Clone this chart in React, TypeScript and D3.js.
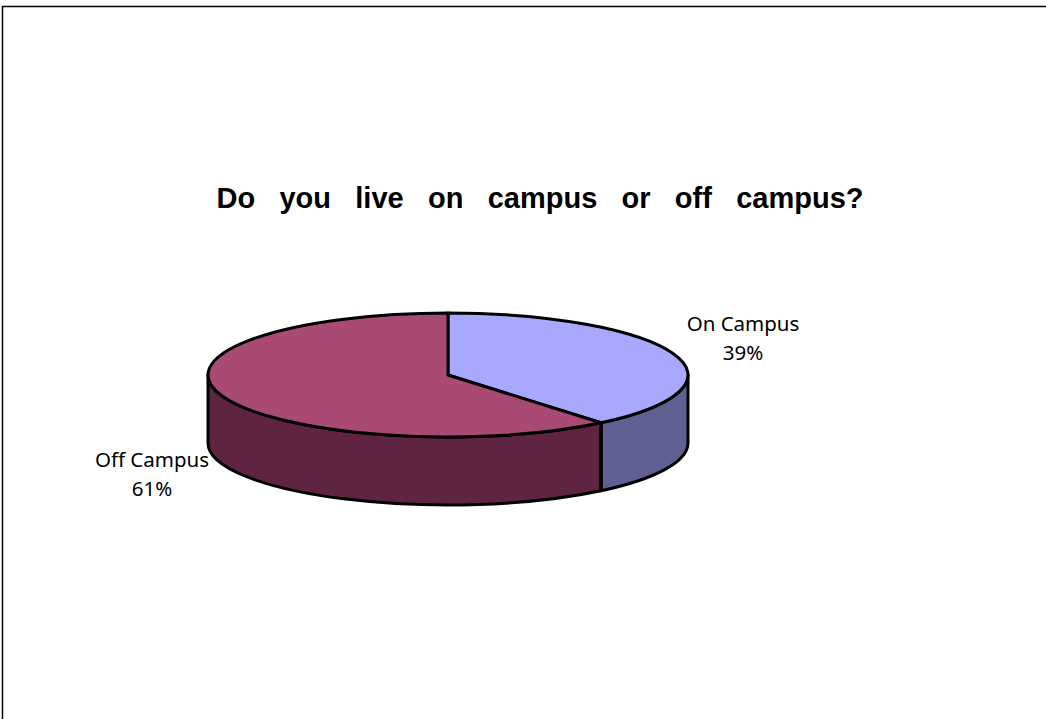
import React, { useEffect, useRef } from "react";
import * as d3 from "d3";

const categories = ["On Campus", "Off Campus"];
const values = [39, 61];
const percentLabels = ["39%", "61%"];
const topColors = ["#A8A8FE", "#A84A74"];
const sideColors = ["#606092", "#5F2442"];
const title = "Do you live on campus or off campus?";

const W = 1046;
const H = 719;

export default function App() {
  const titleRef = useRef<SVGTextElement>(null);

  const cx = 448;
  const cy = 375;
  const rx = 240;
  const ry = 62;
  const depth = 68;

  const pie = d3.pie<number>().sort(null).startAngle(0).endAngle(2 * Math.PI);
  const arcs = pie(values);

  const pt = (a: number, dy = 0): [number, number] => [
    cx + rx * Math.sin(a),
    cy - ry * Math.cos(a) + dy,
  ];

  const topPath = (a0: number, a1: number) => {
    const p0 = pt(a0);
    const p1 = pt(a1);
    const large = a1 - a0 > Math.PI ? 1 : 0;
    return `M${cx},${cy}L${p0[0]},${p0[1]}A${rx},${ry} 0 ${large} 1 ${p1[0]},${p1[1]}Z`;
  };

  const sidePath = (a0: number, a1: number) => {
    const s = Math.max(a0, Math.PI / 2);
    const e = Math.min(a1, (3 * Math.PI) / 2);
    if (e <= s) return null;
    const p0 = pt(s);
    const p1 = pt(e);
    const q1 = pt(e, depth);
    const q0 = pt(s, depth);
    return `M${p0[0]},${p0[1]}A${rx},${ry} 0 0 1 ${p1[0]},${p1[1]}L${q1[0]},${q1[1]}A${rx},${ry} 0 0 0 ${q0[0]},${q0[1]}Z`;
  };

  useEffect(() => {
    const t = titleRef.current;
    if (!t) return;
    t.setAttribute("word-spacing", "0");
    const w = t.getComputedTextLength();
    const target = 647;
    const gaps = title.split(" ").length - 1;
    t.setAttribute("word-spacing", String((target - w) / gaps));
  }, []);

  const labelPos = [
    { x: 743, y: 331 },
    { x: 152, y: 467 },
  ];

  return (
    <svg
      width={W}
      height={H}
      style={{ position: "absolute", left: 0, top: 0, background: "#fff" }}
      fontFamily="'Noto Sans', sans-serif"
    >
      <rect x={2.5} y={6.5} width={W + 10} height={H + 10} fill="#fff" stroke="#000" strokeWidth={1.5} />
      <text
        ref={titleRef}
        x={540}
        y={208}
        textAnchor="middle"
        fontFamily="'Liberation Sans', Arial, sans-serif"
        fontWeight="bold"
        fontSize={29}
        fill="#000"
      >
        {title}
      </text>
      <g stroke="#000" strokeWidth={3} strokeLinejoin="round">
        {arcs.map((a, i) => {
          const d = sidePath(a.startAngle, a.endAngle);
          return d ? <path key={"s" + i} d={d} fill={sideColors[i]} /> : null;
        })}
        {arcs.map((a, i) => {
          const ang = a.endAngle;
          if (ang > Math.PI / 2 && ang < (3 * Math.PI) / 2 && i < arcs.length - 1) {
            const p = pt(ang);
            const q = pt(ang, depth);
            return <line key={"e" + i} x1={p[0]} y1={p[1]} x2={q[0]} y2={q[1]} />;
          }
          return null;
        })}
        {arcs.map((a, i) => (
          <path key={"t" + i} d={topPath(a.startAngle, a.endAngle)} fill={topColors[i]} />
        ))}
      </g>
      {categories.map((c, i) => (
        <text key={c} x={labelPos[i].x} y={labelPos[i].y} textAnchor="middle" fontSize={20.5} fill="#000">
          <tspan x={labelPos[i].x}>{c}</tspan>
          <tspan x={labelPos[i].x} dy={28.5}>{percentLabels[i]}</tspan>
        </text>
      ))}
    </svg>
  );
}
